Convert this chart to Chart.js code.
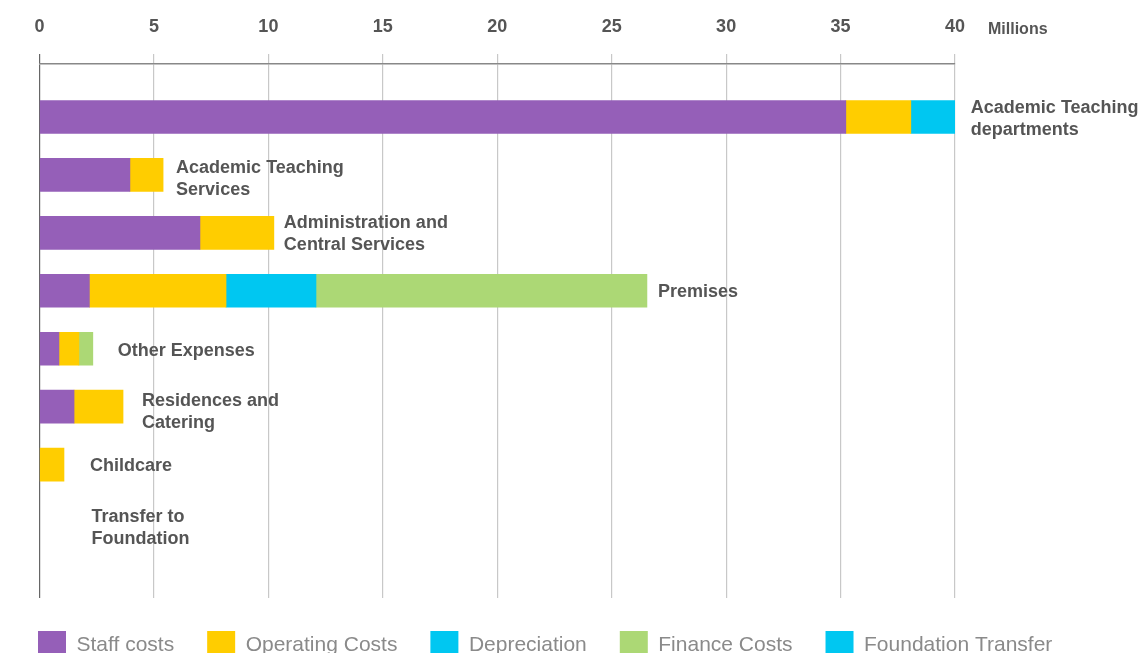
<!DOCTYPE html>
<html>
<head>
<meta charset="utf-8">
<script src="https://cdn.jsdelivr.net/npm/chart.js@4/dist/chart.umd.min.js"></script>
<style>
  html, body { margin: 0; padding: 0; background: #ffffff; overflow: hidden; }
  #wrap { position: absolute; left: 0; top: 0; width: 1144px; height: 669px; }
</style>
</head>
<body>
<div id="wrap"><canvas id="c" width="1144" height="669"></canvas></div>
<script>
// ---- Data ----
const categories = [
  ["Academic Teaching", "departments"],
  ["Academic Teaching", "Services"],
  ["Administration and", "Central Services"],
  ["Premises"],
  ["Other Expenses"],
  ["Residences and", "Catering"],
  ["Childcare"],
  ["Transfer to", "Foundation"]
];
const seriesNames = ["Staff costs", "Operating Costs", "Depreciation", "Finance Costs", "Foundation Transfer"];
const staffCosts         = [35.23, 3.95, 7.01, 2.18, 0.85, 1.51, 0, 0];
const operatingCosts     = [2.84, 1.45, 3.23, 5.97, 0.87, 2.14, 1.07, 0];
const depreciation       = [2.01, 0, 0, 3.93, 0, 0, 0, 0];
const financeCosts       = [0, 0, 0, 14.46, 0.61, 0, 0, 0];
const foundationTransfer = [0, 0, 0, 0, 0, 0, 0, 0];
const xTicks = [0, 5, 10, 15, 20, 25, 30, 35, 40];
const unitLabel = "Millions";

// ---- Styles ----
const colors = ["#955fb8", "#ffcd00", "#00c7f1", "#acd875", "#00c7f1"];
const labelGap = [14, 13, 10, 11, 25, 19, 26, 52];
const labelShiftY = [2, 4, 1, 1, 2, 5, 1, 5];
const FONT = "'Liberation Sans', Arial, Helvetica, sans-serif";

const seriesValues = [staffCosts, operatingCosts, depreciation, financeCosts, foundationTransfer];
const datasets = seriesNames.map((name, s) => ({
  label: name,
  data: seriesValues[s].map((v, i) => ({ x: v === 0 ? null : v, y: i })),
  backgroundColor: colors[s],
  borderWidth: 0,
  barThickness: 33
}));

const endLabels = {
  id: 'endLabels',
  afterDatasetsDraw(chart) {
    const ctx = chart.ctx;
    const xs = chart.scales.x, ys = chart.scales.y;
    ctx.save();
    ctx.font = "bold 18px " + FONT;
    ctx.fillStyle = "#555555";
    ctx.textAlign = "left";
    ctx.textBaseline = "middle";
    categories.forEach((lines, i) => {
      let total = 0;
      seriesValues.forEach(arr => { total += arr[i]; });
      const x = xs.getPixelForValue(total) + labelGap[i];
      const yc = ys.getPixelForValue(i) + labelShiftY[i];
      const lh = 22;
      const y0 = yc - (lines.length - 1) * lh / 2;
      lines.forEach((t, k) => ctx.fillText(t, x, y0 + k * lh));
    });
    // unit label
    ctx.font = "bold 16px " + FONT;
    ctx.fillText(unitLabel, xs.right + 33, 30);
    ctx.restore();
  }
};

new Chart(document.getElementById('c'), {
  type: 'bar',
  data: { datasets },
  options: {
    responsive: false,
    animation: false,
    indexAxis: 'y',
    layout: { padding: { left: 5, top: 0, right: 0, bottom: 0 } },
    scales: {
      x: {
        type: 'linear',
        position: 'top',
        stacked: true,
        min: xTicks[0],
        max: xTicks[xTicks.length - 1],
        afterBuildTicks: (scale) => { scale.ticks = xTicks.map(v => ({ value: v })); },
        ticks: {
          padding: 16.2,
          color: '#555555',
          font: { family: FONT, size: 18, weight: 'bold' }
        },
        grid: {
          color: (c) => (c.tick && c.tick.value === 0) ? '#666666' : '#c8c8c8',
          lineWidth: 1.2,
          tickLength: 10
        },
        border: { color: '#888888', width: 1.5 }
      },
      y: {
        type: 'linear',
        position: 'left',
        stacked: true,
        reverse: true,
        offset: false,
        min: -0.914,
        max: 8.302,
        ticks: { display: false },
        grid: { display: false, offset: false },
        border: { display: false },
        afterFit: (scale) => { scale.width = 34.5; }
      },
      y2: {
        type: 'linear',
        position: 'right',
        offset: false,
        ticks: { display: false },
        grid: { display: false },
        border: { display: false },
        afterFit: (scale) => { scale.width = 189; }
      }
    },
    plugins: {
      legend: {
        position: 'bottom',
        align: 'start',
        labels: {
          boxWidth: 28,
          boxHeight: 28,
          padding: 33,
          color: '#8a8a8a',
          font: { family: FONT, size: 21 }
        }
      },
      tooltip: { enabled: false }
    }
  },
  plugins: [endLabels]
});
</script>
</body>
</html>
